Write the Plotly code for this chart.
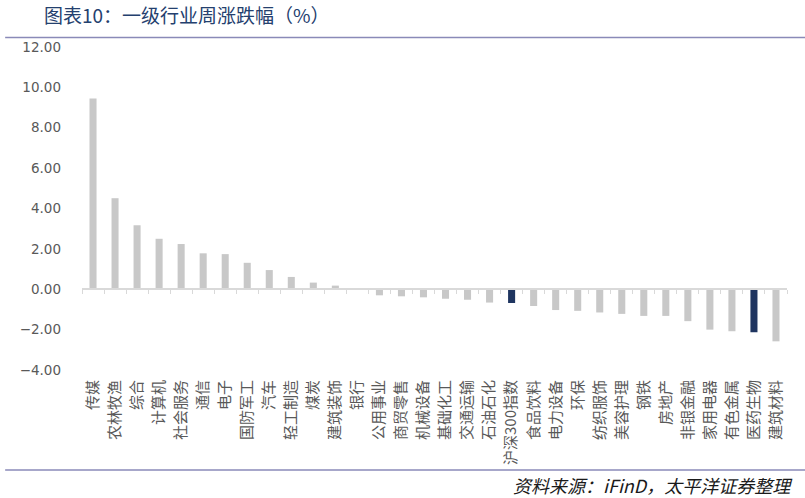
import plotly.graph_objects as go

# 一级行业周涨跌幅 (%)
industries = [
    "传媒", "农林牧渔", "综合", "计算机", "社会服务", "通信", "电子", "国防军工",
    "汽车", "轻工制造", "煤炭", "建筑装饰", "银行", "公用事业", "商贸零售", "机械设备",
    "基础化工", "交通运输", "石油石化", "沪深300指数", "食品饮料", "电力设备", "环保",
    "纺织服饰", "美容护理", "钢铁", "房地产", "非银金融", "家用电器", "有色金属",
    "医药生物", "建筑材料",
]
weekly_change = [
    9.45, 4.51, 3.17, 2.50, 2.24, 1.78, 1.74, 1.31,
    0.95, 0.61, 0.33, 0.18, 0.02, -0.30, -0.35, -0.40,
    -0.47, -0.52, -0.66, -0.68, -0.83, -1.03, -1.07,
    -1.15, -1.22, -1.32, -1.32, -1.58, -2.00, -2.08,
    -2.13, -2.58,
]
highlighted = {"沪深300指数", "医药生物"}

GREY = "#c8c8c8"
NAVY = "#1f3560"
bar_colors = [NAVY if name in highlighted else GREY for name in industries]

fig = go.Figure()
fig.add_trace(go.Bar(
    x=industries, y=weekly_change,
    marker=dict(color=bar_colors, line=dict(width=0)),
    hoverinfo="x+y", showlegend=False,
))
# helper trace that carries the category axis drawn along y = 0
fig.add_trace(go.Scatter(
    x=industries, y=[None] * len(industries), xaxis="x2",
    mode="markers", showlegend=False, hoverinfo="skip",
))

fig.update_layout(
    width=805, height=498,
    margin=dict(l=82, r=18, t=47, b=128),
    paper_bgcolor="white", plot_bgcolor="white",
    bargap=0.68,
    font=dict(family="Noto Sans CJK SC, sans-serif", color="#595959"),
    xaxis=dict(
        type="category", range=[-0.5, len(industries) - 0.5],
        showline=False, showgrid=False, zeroline=False, ticks="",
        tickangle=-90, ticklabelstandoff=6,
        tickfont=dict(family="Noto Sans CJK SC", size=15, color="#595959"),
    ),
    xaxis2=dict(
        type="category", range=[-0.5, len(industries) - 0.5],
        overlaying="x", anchor="free", position=0.25, side="bottom",
        showline=True, linecolor="#d9d9d9", linewidth=1.5,
        ticks="outside", tickson="boundaries", ticklen=4, tickcolor="#d9d9d9",
        showticklabels=False, showgrid=False, zeroline=False,
    ),
    yaxis=dict(
        range=[-4, 12], dtick=2, tickformat=".2f",
        showgrid=False, zeroline=False, showline=False, ticks="",
        ticklabelstandoff=20,
        tickfont=dict(family="DejaVu Sans", size=13.5, color="#595959"),
    ),
    shapes=[
        dict(type="line", xref="paper", yref="paper",
             x0=-0.109, x1=1.03, y0=1.0294, y1=1.0294,
             line=dict(color="#8a8ab8", width=1.5)),
        dict(type="line", xref="paper", yref="paper",
             x0=-0.109, x1=1.03, y0=-0.3096, y1=-0.3096,
             line=dict(color="#8a8ab8", width=1.5)),
    ],
    annotations=[
        dict(text="图表10：一级行业周涨跌幅（%）", xref="paper", yref="paper",
             x=-0.057, y=1.1, xanchor="left", yanchor="middle", showarrow=False,
             font=dict(family="Noto Sans CJK SC", size=19, color="#24406e")),
        dict(text="<i>资料来源：iFinD，太平洋证券整理</i>", xref="paper", yref="paper",
             x=1.011, y=-0.356, xanchor="right", yanchor="middle", showarrow=False,
             font=dict(family="Noto Sans CJK SC", size=18, color="#1a1a1a")),
    ],
)

fig.write_html("out.html")
